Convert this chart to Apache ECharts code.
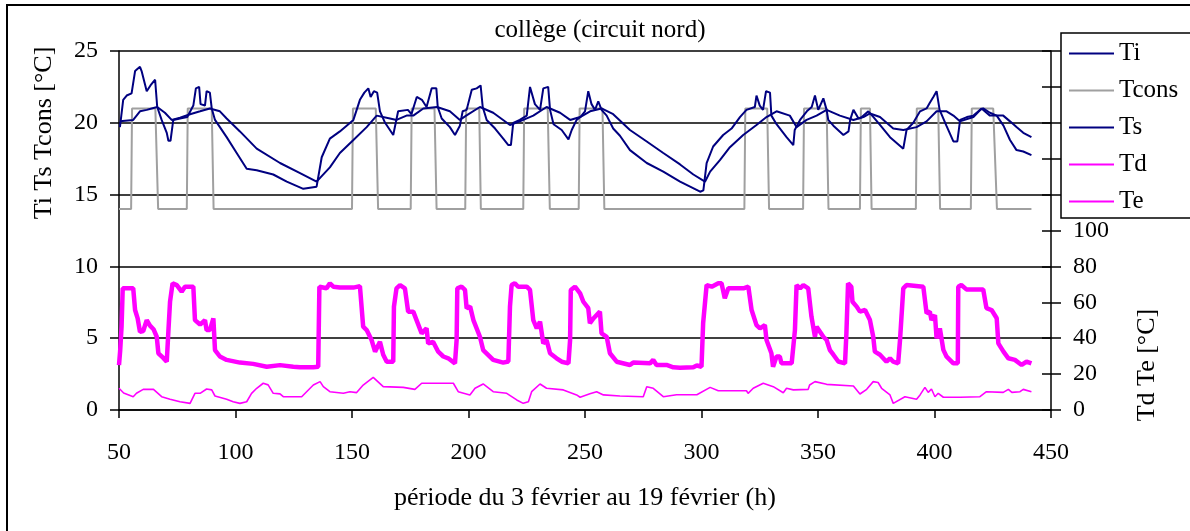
<!DOCTYPE html>
<html>
<head>
<meta charset="utf-8">
<script src="https://cdn.jsdelivr.net/npm/echarts@6/dist/echarts.min.js"></script>
<style>html,body{margin:0;padding:0;background:#fff}#c{width:1190px;height:531px}</style>
</head>
<body>
<div id="c"></div>
<script>
// ---- data (hours, value) ----
const seriesNames = ['Ti', 'Tcons', 'Ts', 'Td', 'Te'];
const xTicks = [50, 100, 150, 200, 250, 300, 350, 400, 450];

const tiData = [[50.4,19.7],[51.8,21.6],[53.3,21.9],[55.4,22.05],[56.9,23.6],[59,23.9],[59.7,23.6],[61.9,22.2],[63.5,22.6],[65.5,23.0],[66.4,21.1],[68.3,20.2],[70.5,19.3],[71.2,18.75],[72.1,18.75],[73.3,20.2],[76.2,20.3],[79.3,20.4],[81.9,21.2],[83,22.4],[84.4,22.5],[85,21.3],[86.9,21.2],[87.6,22.2],[89,22.1],[89.8,21.0],[91.2,20.2],[96.2,19.0],[100.5,17.9],[104.8,16.8],[109.1,16.7],[116.2,16.4],[122,15.9],[129.1,15.4],[134.8,15.55],[137,17.6],[140.5,18.9],[144.8,19.4],[150.6,20.2],[153.4,21.6],[155.3,22.1],[157,22.4],[158,21.8],[159.4,22.2],[160.8,22.1],[162,20.8],[164.2,20.0],[167.7,19.15],[169.8,20.8],[170.6,20.9],[174,20.9],[175.5,20.6],[177.8,21.8],[180,21.6],[182,21.1],[184.2,22.4],[186.2,22.4],[186.8,21.1],[188.5,20.3],[192,19.7],[194.2,19.15],[196.3,19.8],[197.5,20.8],[199.2,20.9],[201.4,22.3],[203.5,22.4],[205.2,22.6],[206.1,21.1],[207.8,20.2],[211.4,19.6],[214.9,18.9],[217.1,18.45],[218.2,18.45],[219.2,20.0],[222,20.2],[225,20.5],[226.4,22.5],[228.5,21.3],[230.7,20.9],[232.1,22.4],[234.2,22.5],[235,20.9],[236.5,19.9],[240,19.5],[242.9,18.85],[244.3,19.5],[246.4,20.2],[248,20.4],[250,20.8],[251.4,22.2],[252.8,21.3],[254.3,20.9],[255.7,21.5],[257.1,20.9],[259.3,20.5],[262.1,19.6],[265,19.1],[269.3,18.1],[276.5,17.2],[283.6,16.6],[290.8,15.9],[299.4,15.2],[300.8,15.3],[302.2,17.2],[305,18.35],[309.3,19.15],[312.9,19.6],[316.5,20.4],[319.3,20.9],[322.9,21.1],[323.6,21.9],[325,21.2],[326.4,20.9],[327.7,22.2],[329.4,22.1],[330,20.5],[332.2,19.9],[336.5,19.0],[339.4,18.45],[340,19.5],[342.3,20.2],[345.2,20.8],[347.3,21.1],[348.7,21.9],[350.1,20.9],[352.3,21.7],[353.7,20.9],[354.4,20.2],[356.6,19.8],[360.9,19.15],[363.1,19.4],[363.8,20.2],[365.2,20.9],[367.4,20.3],[368.8,20.4],[371.6,20.8],[373.8,20.4],[376.6,19.85],[380.9,19.0],[386.6,18.2],[388,19.5],[390.9,20.0],[393.8,20.8],[396.6,21.0],[398,21.4],[399.5,21.8],[400.9,22.2],[402.2,20.9],[405.1,19.8],[408.1,18.7],[409.8,18.7],[411,20.2],[413.9,20.4],[416.7,20.5],[419.5,20.9],[420.9,21.0],[423.8,20.7],[426.7,20.5],[429.6,19.8],[432.4,18.8],[435.2,18.1],[438.1,18.0],[441.6,17.75]];

const tsData = [[50.4,20.1],[56.1,20.2],[59,20.8],[61.9,20.9],[64,21.0],[66.4,21.1],[69.7,20.7],[72.6,20.2],[76.2,20.35],[80.5,20.6],[84.8,20.8],[89,21.0],[93.3,20.8],[96.2,20.3],[101.9,19.4],[109.1,18.2],[119.1,17.2],[127.7,16.5],[134.8,15.9],[140.5,16.9],[144.8,17.9],[150.6,18.8],[156.3,19.7],[160.6,20.5],[166.3,20.3],[169.1,20.2],[173.4,20.5],[176.3,20.5],[180.6,21.0],[186.5,21.1],[192,20.8],[196.3,20.2],[199,20.5],[204.9,21.1],[210.6,20.7],[217.8,19.85],[222,20.1],[227.8,20.5],[233.5,21.1],[239.3,20.7],[243.6,20.2],[247.9,20.4],[252.2,20.8],[257.1,21.0],[262.1,20.6],[269.3,19.5],[276.5,18.7],[283.6,17.9],[290.8,17.1],[296.5,16.4],[301.5,15.9],[303.7,16.6],[307.9,17.4],[312.2,18.3],[317.9,19.15],[323.6,19.85],[327.9,20.4],[332.2,20.8],[337.9,20.5],[340.8,19.7],[345.1,20.2],[349.4,20.5],[353.7,20.9],[359.4,20.5],[365.2,20.2],[369.5,20.4],[372.3,20.65],[376.6,20.4],[382.3,19.6],[386.6,19.5],[392.3,19.7],[396.6,20.1],[400.9,20.8],[405.2,20.8],[408.1,20.5],[410.9,20.1],[416.7,20.4],[420.2,21.0],[423.8,20.5],[429.5,20.5],[432.4,20.1],[435.2,19.7],[438.1,19.3],[441.6,19.0]];

const tconsData = [[50,14],[55.2,14],[55.6,21],[65.6,21],[66.8,14],[79.1,14],[79.5,21],[89.8,21],[90.6,14],[150,14],[150.4,21],[160.2,21],[161.2,14],[175.2,14],[175.6,21],[185.4,21],[186.3,14],[198.6,14],[199,21],[204.6,21],[205.3,14],[223.5,14],[223.9,21],[234,21],[234.9,14],[247.3,14],[247.7,21],[257.5,21],[258.3,14],[318.4,14],[318.8,21],[328.2,21],[329,14],[343.6,14],[344,21],[353.7,21],[354.5,14],[368,14],[368.4,21],[372.3,21],[373,14],[392,14],[392.4,21],[401.6,21],[402.4,14],[415.6,14],[416,21],[425.2,21],[426.8,14],[441.6,14]];

const tdData = [[50,25],[50.5,33],[51.1,46.4],[51.6,67.8],[56.1,67.8],[56.9,55.7],[58,51],[59,43.6],[60.4,44],[61.9,50.1],[63.3,47],[64.8,45],[66.2,40.8],[66.9,31.6],[69,29],[70.5,26.9],[71.2,44],[71.9,60.3],[73,70.6],[74.8,69.6],[76.9,65.9],[78.3,68.7],[81.9,68.7],[82.6,50.1],[84.8,47.6],[86.9,50.1],[87.6,44.5],[89,44.5],[90.5,51.1],[91.2,33.4],[93.3,29.8],[96.2,27.9],[101.9,26.4],[107.6,25.7],[113.4,24.1],[119.1,25],[124.8,24.1],[127.7,23.8],[133.4,23.8],[135.5,24.1],[136,68.7],[139.1,67.8],[140.5,70.6],[142,68.7],[144.8,68.2],[150.6,68.2],[153.4,69.0],[154.8,46.4],[156.3,44.5],[158.4,39],[159.9,32.5],[162,38],[163.4,30.8],[164.9,26.9],[167.7,26.9],[168,57.6],[169.1,67.8],[170.6,69.6],[172.7,67.8],[174.1,54.8],[176.3,54.8],[177.7,50.1],[179.9,42.7],[182,45.5],[182.7,37.1],[184.8,38],[187,32.5],[189.2,29.8],[191.3,28.8],[194.2,26],[194.9,39],[195.2,67.8],[197,68.7],[198.5,66.9],[199.2,56.7],[200.7,57.6],[202.1,50.1],[204.9,40.8],[206.3,33.4],[210.6,27.9],[214.9,26.4],[217.1,27],[217.8,57.6],[218.5,69.6],[219.9,70.6],[221.3,68.7],[225,68.7],[226.4,66.9],[227.8,50.1],[229.3,45.5],[230.7,49.2],[232.1,37.1],[233.5,39],[235,31.6],[237.8,28.8],[240,26.9],[242.9,26],[243.6,39],[243.9,66.9],[245.7,68.7],[247.9,65.0],[249.3,60.3],[251.4,56.7],[252.1,48.3],[253.6,51],[256.4,54.8],[257.1,42.7],[259.3,40.8],[260.7,31.6],[263.6,26.9],[269.3,25.1],[270.7,26.4],[277.9,26],[279.3,27.9],[280.7,25.1],[285,25.1],[287.9,23.8],[290.8,23.6],[296.5,23.8],[298,24.8],[300,24.1],[300.7,48.3],[302.2,69.6],[304.4,68.7],[307.2,70.6],[308.6,70.6],[310,62.2],[311.5,67.8],[318,67.8],[320.1,68.7],[321.5,55.7],[323.6,47.3],[325.1,45.5],[327.2,47.3],[327.9,39],[330,31.6],[330.7,24.1],[332.2,29.8],[333.6,29.8],[334.3,26],[338.7,26],[340.1,44.5],[340.8,69.6],[342.3,67.8],[343.7,69.6],[345.8,67.8],[347.2,52],[348.7,40.8],[349.4,46.4],[352.3,40.8],[353.7,39],[355.1,33.4],[356.6,30.8],[358.7,27.0],[361.6,26],[362.2,43],[362.9,70.6],[364.3,68.7],[364.8,60.3],[366.6,57.6],[368,54.8],[370.2,55.7],[372.3,50.1],[373.7,40.8],[374.4,32.5],[376.6,30.8],[379.4,26.9],[380.9,28.8],[382.3,26.9],[384.4,26],[385.2,39],[386.6,67.8],[388,69.6],[395.2,68.7],[396.6,53.9],[398,54.8],[398.7,50.1],[400.2,52.9],[400.9,39.9],[402.3,45.5],[403.8,33.5],[405.2,29.7],[408.1,26],[410,26],[410.2,68.7],[411.5,69.6],[413.7,67.2],[420.9,67.2],[422.3,56.7],[424.5,55.7],[426.7,51.1],[427.4,37.1],[429.6,32.5],[431.7,28.8],[434.5,27.9],[437.4,25.1],[439.5,27],[441.6,26]];

const teData = [[50,12.1],[52,9.5],[56.1,7.4],[57.5,9.3],[60.4,11.5],[64.8,11.5],[68.3,7.4],[71.9,6],[76.2,4.6],[80.5,3.7],[82.6,9.3],[84.8,9.3],[87.6,11.7],[89.8,11.2],[91.2,7.8],[96.2,6.0],[99,4.6],[101.9,3.7],[104.8,4.6],[106.9,9.3],[109.1,12.1],[111.9,14.9],[114,14],[116.2,9.3],[119.1,9],[120.5,7.4],[128.4,7.4],[133.4,13.9],[136.3,15.8],[137.7,13],[140.5,10.2],[146.3,9.3],[149.1,10.2],[152,9.7],[154.8,13.9],[159.1,18.2],[163.4,13],[172,12.6],[172.7,11.5],[177,11.5],[179.9,14.9],[193.5,14.9],[195.6,10.2],[200.6,8.4],[202.8,12.1],[206.3,14.5],[210.6,10.2],[216.4,9.3],[220.7,5.6],[223.5,3.7],[225.7,4.6],[227.1,10.2],[230.7,14.5],[233.5,12.1],[240.7,11.2],[246.4,8.4],[247.9,7.1],[252.1,9.0],[255,10.2],[257.9,8.4],[265,7.8],[275,7.4],[276.5,13],[279.3,12.1],[283.6,7.4],[289.3,8.5],[298,8.5],[298.6,9.6],[303.7,12.6],[307.2,10.7],[319.3,10.7],[320,9.3],[322.2,12.1],[326.5,14.9],[330.8,13],[335.1,9.6],[336.5,12.1],[339.4,11.2],[345.8,11.5],[346.4,13.9],[348.7,15.8],[353.7,14.3],[365.2,13.4],[368,8.9],[370.9,11.5],[373.7,15.8],[375.8,15.3],[377.3,12.1],[380.9,8.4],[382.3,3.7],[387.3,7.4],[392.3,6.0],[393.8,8.4],[395.9,12.6],[397.3,9.8],[398.7,11.7],[400.2,7.4],[401.6,9.3],[403.8,7.1],[411,7.1],[419.5,7.4],[422.3,10.2],[429.5,9.8],[431.7,11.5],[433.2,9.8],[436.7,10.2],[438.1,11.5],[441.6,10.2]];

const FONT = '"Liberation Serif", "Times New Roman", serif';
const chart = echarts.init(document.getElementById('c'), null, {renderer: 'canvas'});

function lineSeries(name, data, color, width, yIdx, z) {
  return {
    name: name, type: 'line', data: data, yAxisIndex: yIdx,
    symbol: 'none', showSymbol: false, z: z,
    lineStyle: {color: color, width: width}, itemStyle: {color: color},
    animation: false
  };
}

chart.setOption({
  animation: false,
  backgroundColor: '#fff',
  grid: {left: 119, right: 139, top: 51, bottom: 121},
  xAxis: {
    type: 'value', min: xTicks[0], max: xTicks[xTicks.length - 1], interval: 50,
    axisLine: {lineStyle: {color: '#000', width: 1.5}},
    axisTick: {show: true, length: 8, lineStyle: {color: '#000', width: 1.5}},
    axisLabel: {color: '#000', fontSize: 24, fontFamily: FONT, margin: 31},
    splitLine: {show: false}
  },
  yAxis: [
    {
      type: 'value', min: 0, max: 25, interval: 5, position: 'left',
      axisLine: {show: true, lineStyle: {color: '#000', width: 1.5}},
      axisTick: {show: true, length: 9, lineStyle: {color: '#000', width: 1.5}},
      axisLabel: {color: '#000', fontSize: 24, fontFamily: FONT, margin: 21},
      splitLine: {show: true, lineStyle: {color: '#000', width: 1.5}}
    },
    {
      type: 'value', min: 0, max: 200, interval: 20, position: 'right',
      axisLine: {show: true, lineStyle: {color: '#000', width: 1.5}},
      axisTick: {show: true, length: 10, lineStyle: {color: '#000', width: 1.5}},
      axisLabel: {color: '#000', fontSize: 24, fontFamily: FONT, margin: 22,
        formatter: function (v) { return v <= 100 ? String(v) : ''; }},
      splitLine: {show: false}
    },
    {
      type: 'value', min: 0, max: 200, interval: 20, position: 'right',
      axisLine: {show: false},
      axisTick: {show: true, inside: true, length: 9, lineStyle: {color: '#000', width: 1.5}},
      axisLabel: {show: false},
      splitLine: {show: false}
    }
  ],
  legend: {
    orient: 'vertical', left: 1061, top: 33,
    itemWidth: 45, itemHeight: 14, itemGap: 12,
    padding: [8, 80, 4, 7],
    borderColor: '#000', borderWidth: 1.5, backgroundColor: '#fff',
    itemStyle: {opacity: 0},
    textStyle: {color: '#000', fontSize: 25, fontFamily: FONT},
    data: seriesNames
  },
  graphic: [
    {type: 'rect', shape: {x: 7, y: 5, width: 1400, height: 700}, style: {fill: 'none', stroke: '#000', lineWidth: 2}, z: -10, silent: true},
    {type: 'text', x: 600, y: 30, style: {text: 'collège (circuit nord)', font: '25px ' + FONT, fill: '#000', align: 'center', verticalAlign: 'middle', textAlign: 'center', textVerticalAlign: 'middle'}},
    {type: 'text', x: 585, y: 498, style: {text: 'période du 3 février au 19 février (h)', font: '26px ' + FONT, fill: '#000', align: 'center', verticalAlign: 'middle', textAlign: 'center', textVerticalAlign: 'middle'}},
    {type: 'text', x: 44, y: 133, rotation: Math.PI / 2, style: {text: 'Ti Ts Tcons [°C]', font: '26px ' + FONT, fill: '#000', align: 'center', verticalAlign: 'middle', textAlign: 'center', textVerticalAlign: 'middle'}},
    {type: 'text', x: 1147, y: 365, rotation: Math.PI / 2, style: {text: 'Td Te [°C]', font: '26px ' + FONT, fill: '#000', align: 'center', verticalAlign: 'middle', textAlign: 'center', textVerticalAlign: 'middle'}}
  ],
  series: [
    lineSeries('Ti', tiData, '#000080', 2, 0, 4),
    lineSeries('Tcons', tconsData, '#A0A0A0', 2, 0, 3),
    lineSeries('Ts', tsData, '#000080', 2, 0, 4),
    lineSeries('Td', tdData, '#FF00FF', 4.5, 1, 5),
    lineSeries('Te', teData, '#FF00FF', 1.6, 1, 5)
  ]
});
</script>
</body>
</html>
